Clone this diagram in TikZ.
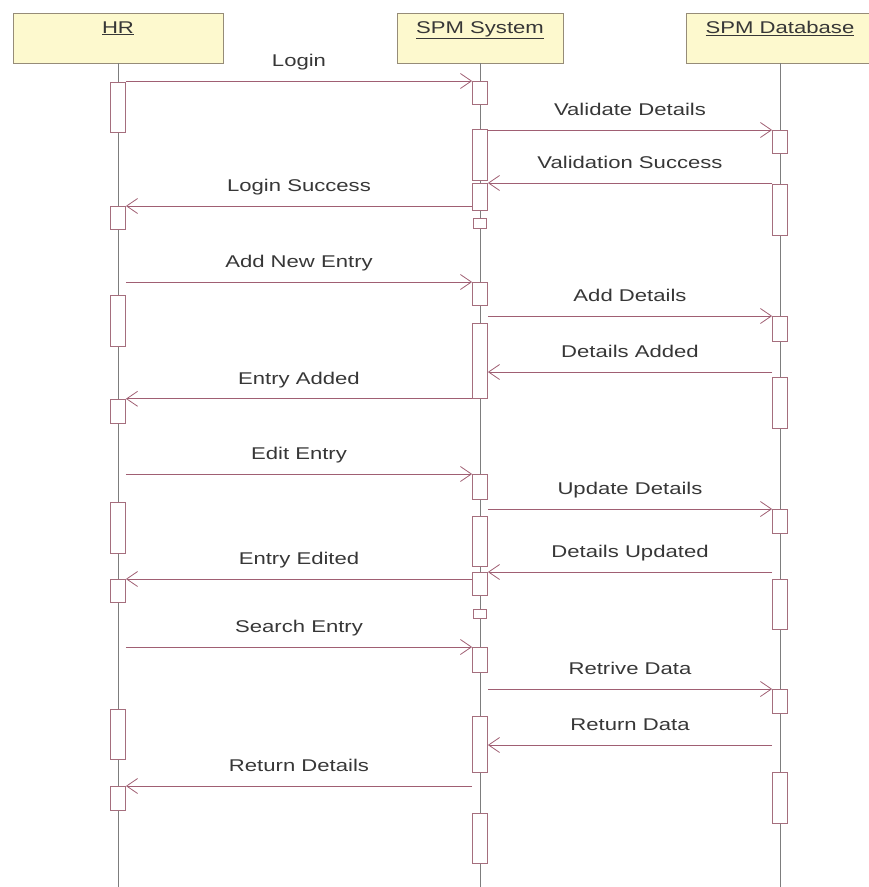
\documentclass[tikz,border=0pt]{standalone}
\usepackage{fontspec}
\setmainfont{Liberation Sans}[FakeStretch=1.3]
\usepackage{xcolor}
\usepackage{tikz}
\usetikzlibrary{arrows.meta, positioning}

\definecolor{headfill}{RGB}{253,249,206}
\definecolor{headline}{RGB}{150,140,120}
\definecolor{lifecol}{RGB}{125,125,125}
\definecolor{actcol}{RGB}{165,110,125}
\definecolor{msgcol}{RGB}{160,95,115}
\definecolor{txtcol}{RGB}{55,55,55}

\begin{document}
\begin{tikzpicture}[x=1pt, y=-1pt,
  every node/.style={font=\fontsize{17pt}{20pt}\selectfont, text=txtcol},
  head/.style={draw=headline, fill=headfill, anchor=north, inner sep=0pt, text height=20pt, text depth=30pt},
  life/.style={draw=lifecol, line width=0.8pt},
  act/.style={draw=actcol, fill=white, line width=0.8pt, anchor=north, minimum width=15pt, inner sep=0pt},
  msg/.style={draw=msgcol, line width=0.8pt, -{Straight Barb[length=11pt, width=15pt, line width=0.8pt]}},
  lbl/.style={midway, above=10pt, inner sep=0pt, text height=12pt, text depth=4pt}]
\useasboundingbox (0,0) rectangle (869,887);

% objects
\node[head, minimum width=210pt] (hr) at (118,13) {\underline{HR}};
\node[head, minimum width=166pt] (sys) at (480,13) {\underline{SPM System}};
\node[head, minimum width=188pt] (db) at (780,13) {\underline{SPM Database}};

% lifelines
\draw[life] (hr.south) -- (hr.south |- 0,887);
\draw[life] (sys.south) -- (sys.south |- 0,887);
\draw[life] (db.south) -- (db.south |- 0,887);

% activations on HR
\node[act, minimum height=50pt] (h1) at (118,82) {};
\node[act, minimum height=23pt] (h2) at (118,206) {};
\node[act, minimum height=51pt] (h3) at (118,295) {};
\node[act, minimum height=24pt] (h4) at (118,399) {};
\node[act, minimum height=51pt] (h5) at (118,502) {};
\node[act, minimum height=23pt] (h6) at (118,579) {};
\node[act, minimum height=50pt] (h7) at (118,709) {};
\node[act, minimum height=24pt] (h8) at (118,786) {};

% activations on SPM System
\node[act, minimum height=23pt] (s1) at (480,81) {};
\node[act, minimum height=51pt] (s2) at (480,129) {};
\node[act, minimum height=27pt] (s3) at (480,183) {};
\node[act, minimum height=10pt, minimum width=13pt] (s4) at (480,218) {};
\node[act, minimum height=23pt] (s5) at (480,282) {};
\node[act, minimum height=75pt] (s6) at (480,323) {};
\node[act, minimum height=25pt] (s7) at (480,474) {};
\node[act, minimum height=50pt] (s8) at (480,516) {};
\node[act, minimum height=23pt] (s9) at (480,572) {};
\node[act, minimum height=9pt, minimum width=13pt] (s10) at (480,609) {};
\node[act, minimum height=25pt] (s11) at (480,647) {};
\node[act, minimum height=56pt] (s12) at (480,716) {};
\node[act, minimum height=50pt] (s13) at (480,813) {};

% activations on SPM Database
\node[act, minimum height=23pt] (d1) at (780,130) {};
\node[act, minimum height=51pt] (d2) at (780,184) {};
\node[act, minimum height=25pt] (d3) at (780,316) {};
\node[act, minimum height=51pt] (d4) at (780,377) {};
\node[act, minimum height=24pt] (d5) at (780,509) {};
\node[act, minimum height=50pt] (d6) at (780,579) {};
\node[act, minimum height=24pt] (d7) at (780,689) {};
\node[act, minimum height=51pt] (d8) at (780,772) {};

% messages
\draw[msg] (h1.east |- s1.north) -- (s1.north west) node[lbl] {Login};
\draw[msg] (s2.east |- d1.north) -- (d1.north west) node[lbl] {Validate Details};
\draw[msg] (d2.west |- s3.north) -- (s3.north east) node[lbl] {Validation Success};
\draw[msg] (s3.west |- h2.north) -- (h2.north east) node[lbl] {Login Success};

\draw[msg] (h3.east |- s5.north) -- (s5.north west) node[lbl] {Add New Entry};
\draw[msg] (s6.east |- d3.north) -- (d3.north west) node[lbl] {Add Details};
\draw[msg] (d4.west |- 0,372) -- (s6.east |- 0,372) node[lbl] {Details Added};
\draw[msg] (s6.south west) -- (h4.east |- s6.south) node[lbl] {Entry Added};

\draw[msg] (h5.east |- s7.north) -- (s7.north west) node[lbl] {Edit Entry};
\draw[msg] (s8.east |- d5.north) -- (d5.north west) node[lbl] {Update Details};
\draw[msg] (d6.west |- s9.north) -- (s9.north east) node[lbl] {Details Updated};
\draw[msg] (s9.west |- h6.north) -- (h6.north east) node[lbl] {Entry Edited};

\draw[msg] (h7.east |- s11.north) -- (s11.north west) node[lbl] {Search Entry};
\draw[msg] (s12.east |- d7.north) -- (d7.north west) node[lbl] {Retrive Data};
\draw[msg] (d8.west |- 0,745) -- (s12.east |- 0,745) node[lbl] {Return Data};
\draw[msg] (s12.west |- h8.north) -- (h8.north east) node[lbl] {Return Details};
\end{tikzpicture}
\end{document}
